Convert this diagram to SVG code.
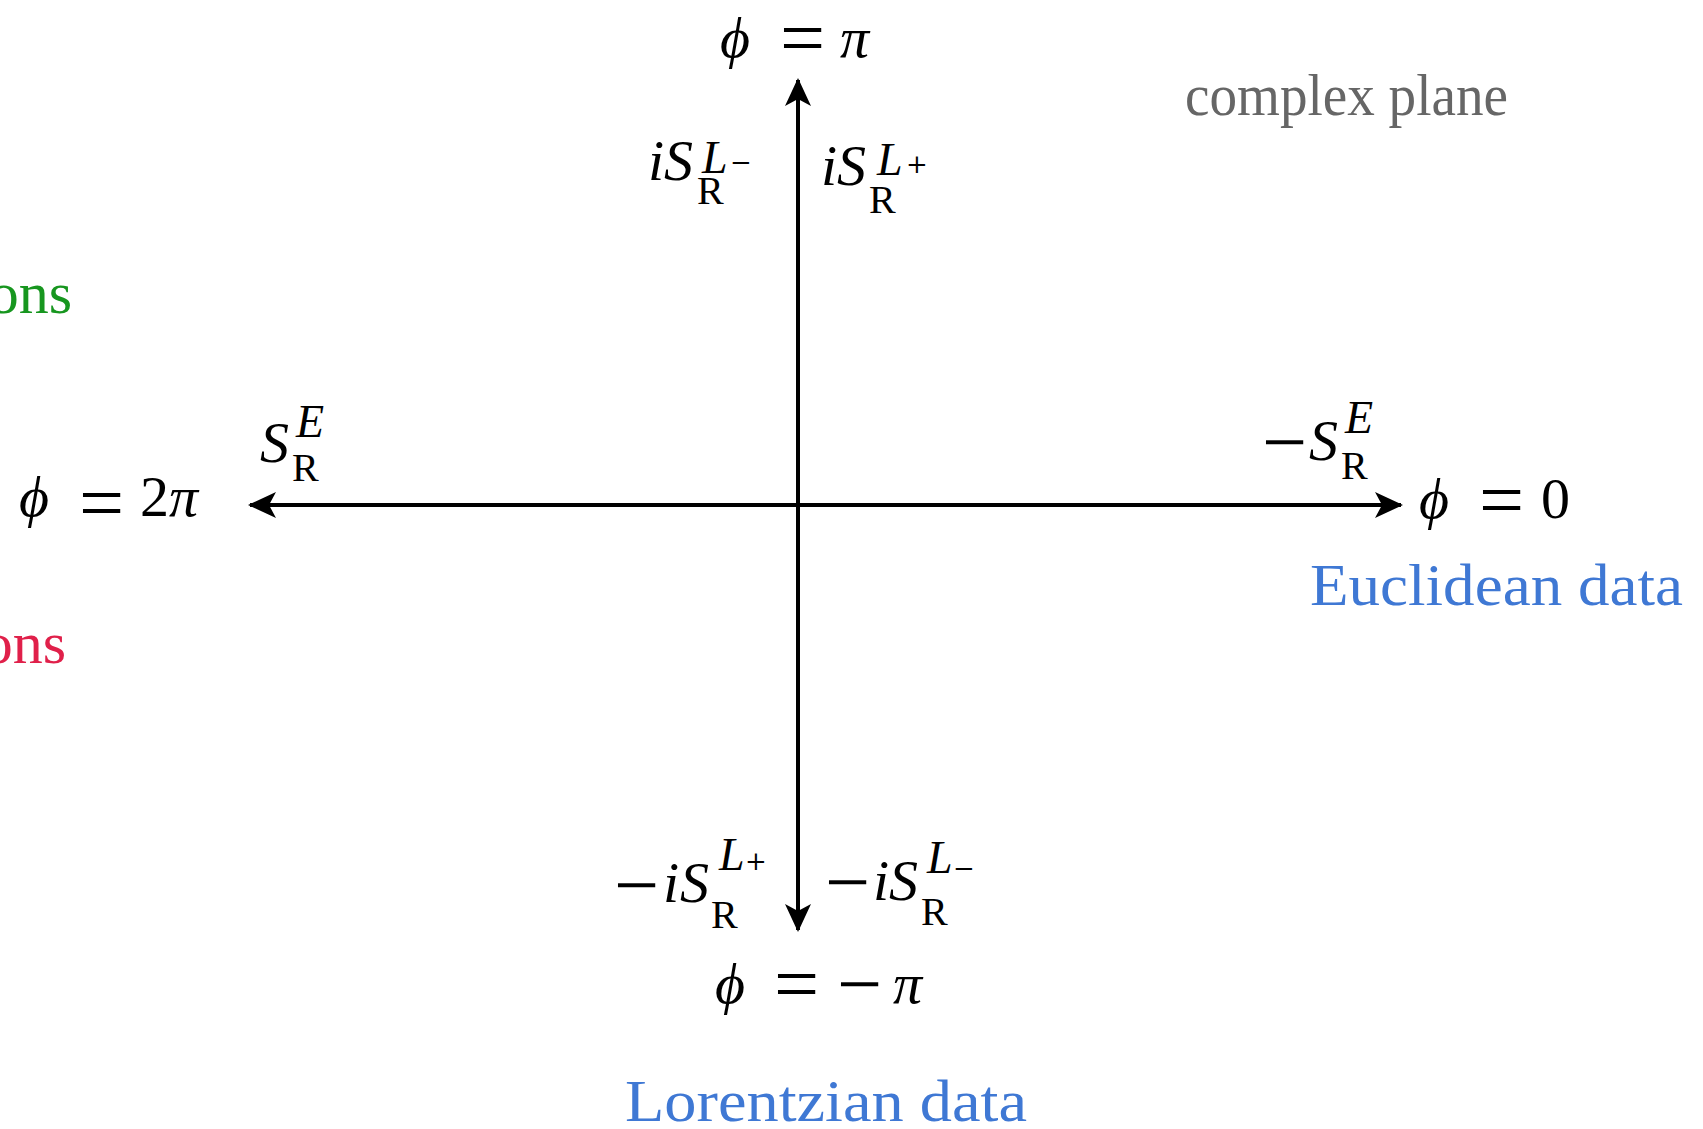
<svg xmlns="http://www.w3.org/2000/svg" width="1703" height="1129" viewBox="0 0 1703 1129">
<style>
.m{font-family:"Liberation Serif","DejaVu Serif",serif;fill:#000}
.op{font-family:"Liberation Serif","DejaVu Serif",serif;fill:#000;font-size:80px}
.it{font-style:italic}
.big{font-size:58px}
.sup{font-size:46px;font-style:italic}
.sub{font-size:40px}
.tiny{font-family:"DejaVu Serif","Liberation Serif",serif;font-size:26px;fill:#000}
.lbl{font-family:"Liberation Serif","DejaVu Serif",serif;font-size:60px}
.blue{fill:#3f78d4}
.axis{stroke:#000;stroke-width:4;fill:none}
</style>
<defs>
<marker id="a" viewBox="0 0 28 26" refX="26" refY="13" markerWidth="28" markerHeight="26" orient="auto" markerUnits="userSpaceOnUse">
<path d="M0,0 L28,13 L0,26 L7,13 Z" fill="#000"/>
</marker>
</defs>
<g id="connectors">
<line class="axis" x1="798" y1="505" x2="1401" y2="505" marker-end="url(#a)"/>
<line class="axis" x1="798" y1="505" x2="250" y2="505" marker-end="url(#a)"/>
<line class="axis" x1="798" y1="505" x2="798" y2="80" marker-end="url(#a)"/>
<line class="axis" x1="798" y1="505" x2="798" y2="930" marker-end="url(#a)"/>
</g>
<g id="top-label">
<text class="m big it" x="720" y="57">ϕ</text>
<text class="op" x="780" y="65">=</text>
<text class="m big it" x="840" y="57">π</text>
</g>
<g id="bottom-label">
<text class="m big it" x="715" y="1003">ϕ</text>
<text class="op" x="774" y="1011">=</text>
<text class="op" x="837" y="1011">−</text>
<text class="m big it" x="893" y="1003">π</text>
</g>
<g id="left-label">
<text class="m big it" x="19" y="516">ϕ</text>
<text class="op" x="79" y="530">=</text>
<text class="m big" x="140" y="516">2</text>
<text class="m big it" x="169" y="516">π</text>
</g>
<g id="right-label">
<text class="m big it" x="1419" y="518">ϕ</text>
<text class="op" x="1479" y="527">=</text>
<text class="m big" x="1541" y="518">0</text>
</g>
<g id="top-left-action">
<text class="m big it" x="648" y="180">i</text>
<text class="m big it" x="664" y="180">S</text>
<text class="m sup" x="702" y="173">L</text>
<text class="tiny" x="730" y="171">−</text>
<text class="m sub" x="697" y="204">R</text>
</g>
<g id="top-right-action">
<text class="m big it" x="821" y="185">i</text>
<text class="m big it" x="837" y="185">S</text>
<text class="m sup" x="877" y="175">L</text>
<text class="tiny" x="906" y="173">+</text>
<text class="m sub" x="869" y="213">R</text>
</g>
<g id="left-action">
<text class="m big it" x="260" y="462">S</text>
<text class="m sup" x="296" y="437">E</text>
<text class="m sub" x="292" y="481">R</text>
</g>
<g id="right-action">
<text class="op" x="1262" y="469">−</text>
<text class="m big it" x="1309" y="460">S</text>
<text class="m sup" x="1345" y="433">E</text>
<text class="m sub" x="1341" y="479">R</text>
</g>
<g id="bottom-left-action">
<text class="op" x="614" y="912">−</text>
<text class="m big it" x="663" y="902">i</text>
<text class="m big it" x="680" y="902">S</text>
<text class="m sup" x="719" y="870">L</text>
<text class="tiny" x="745" y="870">+</text>
<text class="m sub" x="711" y="928">R</text>
</g>
<g id="bottom-right-action">
<text class="op" x="825" y="909">−</text>
<text class="m big it" x="873" y="900">i</text>
<text class="m big it" x="889" y="900">S</text>
<text class="m sup" x="927" y="873">L</text>
<text class="tiny" x="953" y="877">−</text>
<text class="m sub" x="921" y="925">R</text>
</g>
<g id="complex-plane">
<text class="lbl" x="1185" y="115" fill="#666" font-size="55" textLength="323" lengthAdjust="spacingAndGlyphs">complex plane</text>
</g>
<g id="euclidean-data">
<text class="lbl blue" x="1310" y="605" textLength="373" lengthAdjust="spacingAndGlyphs">Euclidean data</text>
</g>
<g id="lorentzian-data">
<text class="lbl blue" x="625" y="1121" textLength="402" lengthAdjust="spacingAndGlyphs">Lorentzian data</text>
</g>
<g id="green-text">
<text class="lbl" x="72" y="313" text-anchor="end" fill="#17961f">ons</text>
</g>
<g id="red-text">
<text class="lbl" x="66" y="663" text-anchor="end" fill="#e0204a">ons</text>
</g>
</svg>
